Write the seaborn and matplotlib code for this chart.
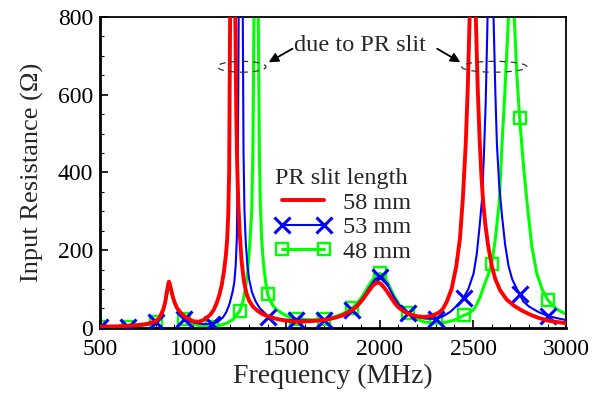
import numpy as np
import pandas as pd
import seaborn as sns
import matplotlib
matplotlib.use("Agg")
import matplotlib.pyplot as plt
from matplotlib.patches import Ellipse
from matplotlib.ticker import MultipleLocator

# values
freq_58 = [500, 600, 700, 750, 800, 820, 840, 850, 860, 866, 870, 874, 880, 890, 900, 915, 935,
           960, 1000, 1030, 1050, 1070, 1090, 1110, 1126, 1140, 1153, 1165, 1175, 1182, 1188,
           1193, 1198, 1205, 1212, 1220, 1226, 1231, 1236, 1242, 1250, 1260, 1272, 1285, 1300,
           1320, 1345, 1370, 1400, 1440, 1490, 1550, 1620, 1700, 1760, 1800, 1850, 1880, 1910,
           1940, 1965, 1988, 2005, 2030, 2055, 2080, 2100, 2130, 2160, 2200, 2240, 2280, 2320,
           2340, 2360, 2385, 2410, 2430, 2445, 2461, 2472, 2482, 2495, 2505, 2515, 2525, 2535,
           2545, 2555, 2565, 2580, 2600, 2620, 2645, 2680, 2720, 2760, 2807, 2850, 2900, 2950,
           3000]
res_58 = [3, 4, 7, 10, 17, 26, 48, 66, 95, 112, 119, 115, 102, 82, 66, 50, 38,
          27, 17, 16, 19, 25, 33, 46, 64, 84, 110, 145, 185, 225, 290,
          400, 800, 1050, 1150, 1000, 800, 550, 420, 320, 240, 170, 120, 90, 70,
          55, 44, 36, 30, 24, 19, 16, 17, 20, 26, 32, 45, 57, 74,
          94, 110, 117, 114, 100, 82, 64, 53, 42, 35, 30, 28, 31, 40,
          50, 68, 100, 158, 230, 329, 474, 620, 800, 1000, 1050, 800, 620, 490,
          390, 320, 270, 215, 160, 125, 97, 73, 57, 45, 34, 26, 19, 15,
          12]

freq_53 = [500, 650, 700, 760, 800, 820, 840, 855, 865, 870, 876, 885, 900, 920, 950, 1000,
           1050, 1100, 1130, 1160, 1179, 1195, 1210, 1220, 1228, 1234, 1239, 1244, 1250, 1256,
           1262, 1266, 1270, 1275, 1282, 1290, 1300, 1315, 1335, 1358, 1380, 1400, 1450, 1500,
           1550, 1620, 1700, 1760, 1800, 1850, 1880, 1910, 1945, 1975, 2000, 2020, 2045, 2075,
           2105, 2150, 2190, 2240, 2300, 2340, 2380, 2420, 2450, 2475, 2503, 2520, 2535, 2548,
           2558, 2568, 2578, 2590, 2600, 2610, 2620, 2628, 2640, 2655, 2672, 2690, 2710, 2750,
           2770, 2800, 2850, 2900, 2950, 3000]
res_53 = [3, 3, 5, 9, 14, 22, 44, 75, 104, 113, 108, 92, 66, 44, 24, 14,
          10, 10, 15, 27, 42, 62, 90, 115, 160, 230, 400, 800, 1100, 1200,
          1000, 800, 450, 300, 220, 165, 125, 92, 68, 50, 36, 29, 23, 21,
          20, 19, 20, 27, 34, 46, 60, 78, 104, 125, 132, 127, 108, 80,
          58, 38, 29, 24, 23, 30, 42, 60, 78, 100, 140, 190, 260, 330,
          440, 580, 800, 1050, 1000, 800, 600, 474, 370, 290, 215, 160, 125, 86,
          68, 55, 41, 31, 25, 20]

freq_48 = [500, 650, 700, 760, 800, 820, 840, 855, 865, 870, 876, 885, 900, 920, 950, 980,
           1020, 1060, 1100, 1140, 1180, 1215, 1250, 1265, 1280, 1292, 1303, 1314, 1320, 1326,
           1334, 1340, 1349, 1355, 1360, 1367, 1376, 1388, 1400, 1415, 1430, 1448, 1475, 1500,
           1550, 1620, 1700, 1760, 1800, 1850, 1880, 1910, 1945, 1975, 2000, 2020, 2045, 2075,
           2105, 2150, 2190, 2240, 2300, 2350, 2400, 2450, 2480, 2501, 2520, 2540, 2560, 2580,
           2600, 2620, 2640, 2655, 2670, 2690, 2700, 2710, 2721, 2735, 2750, 2770, 2790, 2815,
           2842, 2870, 2900, 2930, 2960, 3000]
res_48 = [3, 3, 5, 9, 14, 22, 44, 75, 102, 110, 106, 90, 66, 44, 24, 14,
          7, 4, 3, 6, 12, 22, 44, 64, 100, 145, 210, 303, 450, 800,
          1100, 1150, 800, 450, 320, 230, 170, 120, 86, 68, 56, 47, 38, 31,
          23, 21, 22, 29, 36, 50, 64, 84, 112, 133, 140, 135, 114, 84,
          60, 38, 24, 15, 12, 14, 20, 32, 38, 46, 60, 82, 110, 135,
          164, 230, 320, 470, 600, 800, 1000, 1050, 800, 650, 539, 420, 320, 210,
          140, 100, 72, 56, 45, 35]

marker_freqs = [500, 650, 800, 950, 1100, 1250, 1400, 1550, 1700, 1850, 2000,
                2150, 2300, 2450, 2600, 2750, 2900]

sns.set_style("ticks")
plt.rcParams['font.family'] = ['Liberation Serif', 'DejaVu Serif']

fig = plt.figure(figsize=(5.98, 3.96), dpi=100)
ax = fig.add_axes([0.167, 0.172, 0.78, 0.785])


def marks(freq):
    return [i for i, f in enumerate(freq) if f in marker_freqs]


df58 = pd.DataFrame({'f': freq_58, 'r': res_58})
df53 = pd.DataFrame({'f': freq_53, 'r': res_53})
df48 = pd.DataFrame({'f': freq_48, 'r': res_48})

sns.lineplot(data=df48, x='f', y='r', ax=ax, color='#00ff00', lw=2.2, sort=False,
             estimator=None, marker='s', markersize=8, markerfacecolor='none',
             markeredgecolor='#00ff00', markeredgewidth=1.7, markevery=marks(freq_48),
             label='48 mm', zorder=2)
sns.lineplot(data=df53, x='f', y='r', ax=ax, color='#0000ff', lw=1.5, sort=False,
             estimator=None, marker='x', markersize=11, markeredgewidth=2.2,
             markeredgecolor='#0000ff', markevery=marks(freq_53), label='53 mm', zorder=3)
sns.lineplot(data=df58, x='f', y='r', ax=ax, color='#ff0000', lw=2.8, sort=False,
             estimator=None, label='58 mm', zorder=4)

ax.set_xlim(500, 3000)
ax.set_ylim(0, 800)
ax.xaxis.set_major_locator(MultipleLocator(500))
ax.xaxis.set_minor_locator(MultipleLocator(100))
ax.yaxis.set_major_locator(MultipleLocator(200))
ax.yaxis.set_minor_locator(MultipleLocator(50))
ax.tick_params(which='both', direction='in', labelsize=17, colors='black')
ax.tick_params(which='major', length=6, width=1.2)
ax.tick_params(axis='x', which='major', pad=8)
ax.tick_params(axis='y', which='major', pad=5)
ax.tick_params(which='minor', length=3, width=0.8)
for side, s in ax.spines.items():
    s.set_visible(True)
    s.set_color('black')
    s.set_linewidth(2.0 if side in ('left', 'bottom') else 1.3)

ax.set_xlabel('Frequency (MHz)', fontsize=20, labelpad=3)
ax.set_ylabel('Input Resistance (Ω)', fontsize=19, labelpad=10)

# annotation for the slit resonances
ax.add_patch(Ellipse((1260, 672), 260, 28, fill=False, ls=(0, (5, 4)), lw=0.9,
                     color='#333333', zorder=5))
ax.add_patch(Ellipse((2614, 672), 350, 28, fill=False, ls=(0, (5, 4)), lw=0.9,
                     color='#333333', zorder=5))
ax.text(1895, 727, 'due to PR slit', ha='center', va='center', fontsize=17.5)
ax.annotate('', xy=(1392, 680), xytext=(1545, 722),
            arrowprops=dict(arrowstyle='-|>', color='black', lw=1.3, mutation_scale=14))
ax.annotate('', xy=(2445, 680), xytext=(2295, 722),
            arrowprops=dict(arrowstyle='-|>', color='black', lw=1.3, mutation_scale=14))

h, l = ax.get_legend_handles_labels()
order = [l.index('58 mm'), l.index('53 mm'), l.index('48 mm')]
ax.legend([h[i] for i in order], [l[i] for i in order], title='PR slit length',
          loc='upper left', bbox_to_anchor=(0.355, 0.545), frameon=False, fontsize=17.5,
          title_fontsize=17.5, numpoints=2, handlelength=2.3, handletextpad=0.5,
          labelspacing=0.1, alignment='left', borderaxespad=0)

fig.savefig('out.png', dpi=100)
